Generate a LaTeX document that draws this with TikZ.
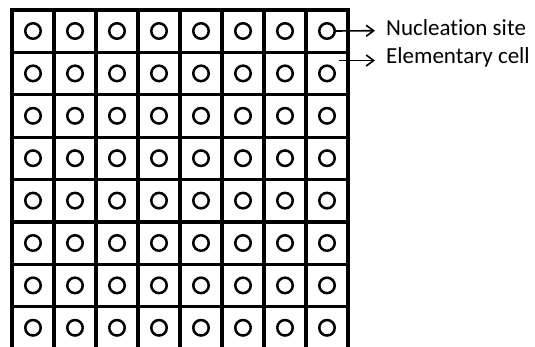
\documentclass[tikz,border=0pt]{standalone}
\usepackage{fontspec}
\setmainfont{Carlito}[Ligatures=NoCommon]
\usetikzlibrary{arrows.meta}
\begin{document}
\begin{tikzpicture}[x=1pt,y=-1pt,
  gridline/.style={line width=3.1pt,line cap=rect},
  site/.style={circle,draw,line width=2.5pt,minimum size=15.5pt,inner sep=0pt},
  pointer/.style={line width=1.6pt,-{Straight Barb[length=7.5pt,width=11pt,line width=1.6pt]}},
  caption/.style={anchor=base west,inner sep=0pt,font=\fontsize{23}{27}\selectfont}]
  \useasboundingbox[fill=white] (0,0) rectangle (535,347);
  % 8 x 8 lattice of elementary cells, open at the bottom edge
  \foreach \i in {0,...,8}
    \draw[gridline] (12+42*\i,10) -- (12+42*\i,348);
  \foreach \k in {0,...,7}
    \draw[gridline] (12,10+42.4*\k) -- (348,10+42.4*\k);
  % one nucleation site in the middle of every cell
  \foreach \r in {1,...,8}
    \foreach \c in {1,...,8}
      \node[site] (s-\r-\c) at (33+42*\c-42,31+42.4*\r-42.4) {};
  % legend
  \node[caption] (nuc) at (386,36) {Nucleation site};
  \node[caption] (cell) at (386,63.5) {Elementary cell};
  \coordinate (cellpt) at (339,60.5);
  \draw[pointer] (s-1-8.east) -- (375,30.7) coordinate (tip1);
  \draw[pointer] (cellpt) -- (375,60.5) coordinate (tip2);
\end{tikzpicture}
\end{document}
